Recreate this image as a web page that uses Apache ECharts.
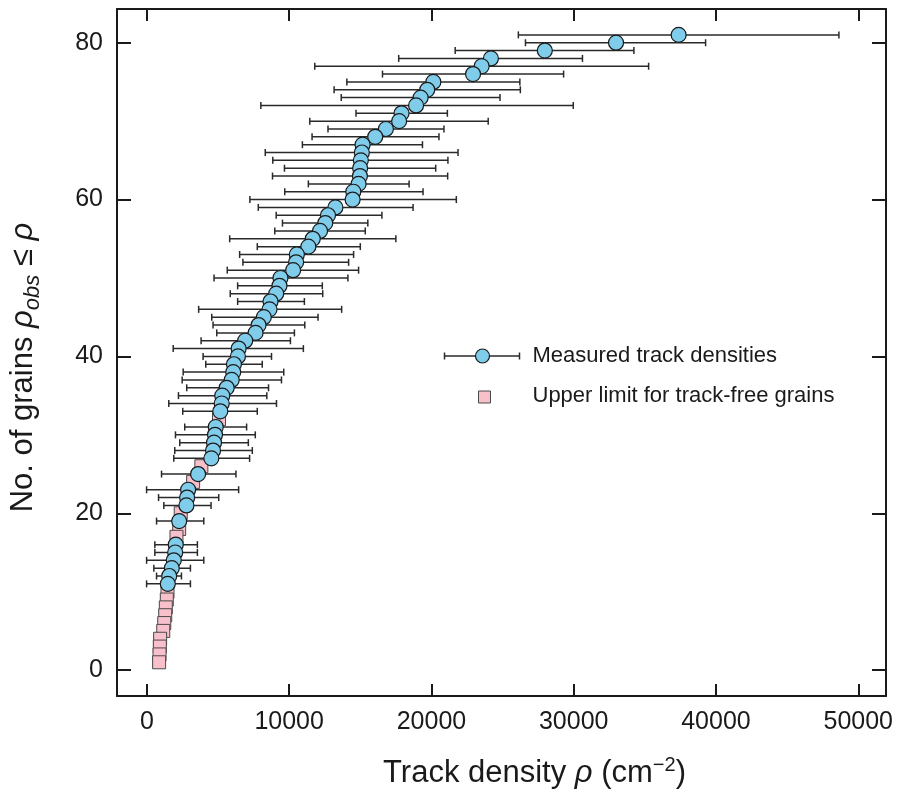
<!DOCTYPE html>
<html>
<head>
<meta charset="utf-8">
<script src="https://cdn.jsdelivr.net/npm/echarts@6/dist/echarts.min.js"></script>
<style>
  html, body { margin: 0; padding: 0; background: #fff; }
  #chart { width: 897px; height: 794px; }
</style>
</head>
<body>
<div id="chart"></div>
<script>
// measured grains: rank (No. of grains), track density, error bar low / high
const measuredRank = [81, 80, 79, 78, 77, 76, 75, 74, 73, 72, 71, 70, 69, 68, 67, 66, 65, 64, 63, 62, 61, 60,
  59, 58, 57, 56, 55, 54, 53, 52, 51, 50, 49, 48, 47, 46, 45, 44, 43, 42, 41, 40, 39, 38, 37, 36, 35, 34, 33,
  31, 30, 29, 28, 27, 25, 23, 22, 21, 19, 16, 15, 14, 13, 12, 11];
const measuredRho = [37375, 32975, 27970, 24180, 23530, 22925, 20135, 19705, 19240, 18920, 17900, 17730, 16800,
  16050, 15160, 15110, 15040, 14990, 14975, 14880, 14510, 14460, 13250, 12730, 12540, 12170, 11660, 11350,
  10540, 10490, 10280, 9390, 9320, 9090, 8690, 8620, 8220, 7850, 7640, 6910, 6450, 6400, 6120, 6070, 5960,
  5610, 5300, 5260, 5160, 4840, 4790, 4720, 4650, 4530, 3600, 2900, 2830, 2780, 2270, 2030, 1990, 1890, 1750,
  1570, 1470];
const errLow = [26110, 26610, 21670, 17700, 11800, 16560, 14055, 13160, 13660, 8010, 14700, 11450, 12730, 11610,
  10930, 8320, 8850, 9670, 8830, 11350, 9690, 7240, 7830, 9090, 9530, 8990, 5820, 7760, 6520, 6750, 5650, 4720,
  6380, 5860, 6380, 3640, 4560, 4650, 4910, 3810, 1850, 3950, 4140, 2550, 2480, 2800, 2220, 1540, 2520, 2660,
  2010, 2310, 1960, 1890, 1030, -20, 820, 1190, 680, 560, 560, -20, 490, 680, -20];
const errHigh = [48640, 39270, 34230, 30615, 35265, 29290, 26215, 26250, 24820, 29970, 21120, 23990, 20880, 20530,
  19370, 21870, 21160, 20300, 21140, 18430, 19410, 21750, 18710, 16520, 15530, 15350, 17500, 15000, 14530, 14180,
  14880, 14130, 12330, 12360, 11070, 13690, 12030, 11100, 10370, 10090, 11000, 8760, 8110, 9620, 9460, 8550,
  8430, 9110, 7760, 7010, 7620, 7130, 7410, 7220, 6260, 6450, 5050, 4510, 4000, 3550, 3550, 4000, 3060, 2430,
  3060];

// track-free grains (upper limits)
const trackFreeRank = [32, 26, 24, 20, 18, 17, 10, 9, 8, 7, 6, 5, 4, 3, 2, 1];
const trackFreeRho = [5070, 3830, 3250, 2380, 2270, 2080, 1450, 1400, 1330, 1290, 1220, 1150, 930, 910, 890, 860];

const xTicks = [0, 10000, 20000, 30000, 40000, 50000];
const yTicks = [0, 20, 40, 60, 80];

const FONT = '"Liberation Sans", Arial, sans-serif';
const INK = '#1a1a1a';

const chart = echarts.init(document.getElementById('chart'));

const errData = measuredRank.map((r, i) => [r, errLow[i], errHigh[i]]);
const measData = measuredRank.map((r, i) => [measuredRho[i], r]);
const freeData = trackFreeRank.map((r, i) => [trackFreeRho[i], r]);

const frameLine = { show: true, onZero: false, lineStyle: { color: INK, width: 2 } };
const tickIn = (vals, len) => ({ show: true, inside: true, length: len, customValues: vals, lineStyle: { color: INK, width: 2 } });
const plain = v => String(v);

const xRange = { min: -2100, max: 51950 };
const yRange = { min: -3.3, max: 84.3 };

const option = {
  animation: false,
  grid: { left: 117, right: 11, top: 9, bottom: 98, containLabel: false, outerBoundsMode: 'none' },
  xAxis: [{
    type: 'value', ...xRange, position: 'bottom',
    axisLine: frameLine,
    axisTick: tickIn(xTicks, 12),
    axisLabel: { customValues: xTicks, formatter: plain, fontSize: 25, color: INK, fontFamily: FONT, margin: 14 },
    splitLine: { show: false },
    name: 'Track density {i|ρ} (cm{sup|−2})',
    nameLocation: 'middle',
    nameGap: 59,
    nameTextStyle: {
      fontSize: 31, color: INK, fontFamily: FONT, lineHeight: 36,
      padding: [0, 0, 0, 66],
      rich: {
        i: { fontSize: 31, fontStyle: 'italic', color: INK, fontFamily: FONT },
        sup: { fontSize: 20, color: INK, fontFamily: FONT, verticalAlign: 'top', lineHeight: 36 }
      }
    }
  }, {
    type: 'value', ...xRange, position: 'top',
    axisLine: frameLine,
    axisTick: tickIn(xTicks, 12),
    axisLabel: { show: false },
    splitLine: { show: false }
  }],
  yAxis: [{
    type: 'value', ...yRange, position: 'left',
    axisLine: frameLine,
    axisTick: tickIn(yTicks, 14),
    axisLabel: { customValues: yTicks, formatter: plain, fontSize: 25, color: INK, fontFamily: FONT, margin: 14 },
    splitLine: { show: false },
    name: 'No. of grains {i|ρ}{sub|obs} ≤ {i|ρ}',
    nameLocation: 'middle',
    nameRotate: 90,
    nameGap: 73,
    nameTextStyle: {
      fontSize: 31, color: INK, fontFamily: FONT, lineHeight: 42,
      padding: [0, 30, 0, 0],
      rich: {
        i: { fontSize: 31, fontStyle: 'italic', color: INK, fontFamily: FONT },
        sub: { fontSize: 22, fontStyle: 'italic', color: INK, fontFamily: FONT, verticalAlign: 'bottom', lineHeight: 42 }
      }
    }
  }, {
    type: 'value', ...yRange, position: 'right',
    axisLine: frameLine,
    axisTick: tickIn(yTicks, 14),
    axisLabel: { show: false },
    splitLine: { show: false }
  }],
  series: [{
    type: 'custom',
    name: 'errorbars',
    data: errData,
    encode: { x: [1, 2], y: 0 },
    z: 2,
    silent: true,
    clip: false,
    renderItem: function (params, api) {
      const y = api.value(0);
      const a = api.coord([api.value(1), y]);
      const b = api.coord([api.value(2), y]);
      const st = { stroke: '#2a2a2a', lineWidth: 1.5 };
      const cap = 3.5;
      return {
        type: 'group',
        children: [
          { type: 'line', shape: { x1: a[0], y1: a[1], x2: b[0], y2: b[1] }, style: st },
          { type: 'line', shape: { x1: a[0], y1: a[1] - cap, x2: a[0], y2: a[1] + cap }, style: st },
          { type: 'line', shape: { x1: b[0], y1: b[1] - cap, x2: b[0], y2: b[1] + cap }, style: st }
        ]
      };
    }
  }, {
    type: 'scatter',
    name: 'Upper limit for track-free grains',
    data: freeData,
    symbol: 'rect',
    symbolSize: 13,
    z: 3,
    itemStyle: { color: '#F7C0CB', borderColor: '#4a4a4a', borderWidth: 1, opacity: 1 }
  }, {
    type: 'scatter',
    name: 'Measured track densities',
    data: measData,
    symbol: 'circle',
    symbolSize: 15,
    z: 4,
    itemStyle: { color: '#80CDEB', borderColor: '#1a1a1a', borderWidth: 1.2, opacity: 1 }
  }],
  graphic: [{
    type: 'group', left: 442, top: 345,
    children: [
      { type: 'line', shape: { x1: 0, y1: 10, x2: 75, y2: 10 }, style: { stroke: '#2a2a2a', lineWidth: 1.5 } },
      { type: 'line', shape: { x1: 0, y1: 6.5, x2: 0, y2: 13.5 }, style: { stroke: '#2a2a2a', lineWidth: 1.5 } },
      { type: 'line', shape: { x1: 75, y1: 6.5, x2: 75, y2: 13.5 }, style: { stroke: '#2a2a2a', lineWidth: 1.5 } },
      { type: 'circle', shape: { cx: 38, cy: 10, r: 7 }, style: { fill: '#80CDEB', stroke: '#1a1a1a', lineWidth: 1.2 } },
      { type: 'text', x: 88, y: 10, style: { text: 'Measured track densities', fontSize: 22, fill: INK, fontFamily: FONT, verticalAlign: 'middle' } },
      { type: 'rect', shape: { x: 34, y: 45, width: 12, height: 12 }, style: { fill: '#F7C0CB', stroke: '#4a4a4a', lineWidth: 1 } },
      { type: 'text', x: 88, y: 50, style: { text: 'Upper limit for track-free grains', fontSize: 22, fill: INK, fontFamily: FONT, verticalAlign: 'middle' } }
    ]
  }]
};

chart.setOption(option);
</script>
</body>
</html>
